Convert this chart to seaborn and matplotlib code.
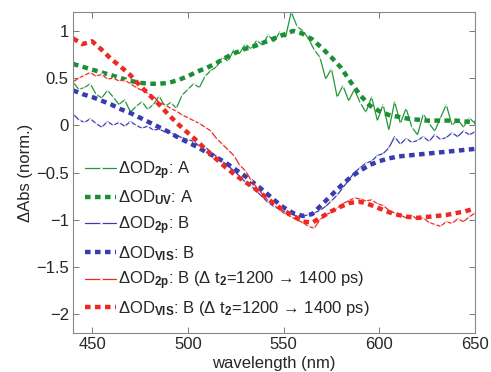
import numpy as np
import seaborn as sns
import matplotlib.pyplot as plt
from matplotlib.ticker import FuncFormatter

# wavelength grids (nm)
wl_2p = np.arange(440, 651, 3)
wl_ref = np.arange(440, 651, 5)

# dOD_2p : A  (green, thin)
od2p_A = [0.46, 0.38, 0.40, 0.44, 0.33, 0.29, 0.37, 0.30, 0.22, 0.27,
          0.14, 0.20, 0.25, 0.17, 0.22, 0.31, 0.20, 0.24, 0.18, 0.32,
          0.38, 0.44, 0.40, 0.52, 0.58, 0.62, 0.72, 0.68, 0.80, 0.76,
          0.86, 0.81, 0.90, 0.85, 0.96, 0.88, 0.99, 0.93, 1.20, 1.05,
          1.00, 0.92, 0.80, 0.72, 0.49, 0.60, 0.30, 0.42, 0.26, 0.38,
          0.24, 0.14, 0.30, 0.05, 0.22, -0.05, 0.25, 0.02, 0.18, -0.02,
          -0.10, 0.12, 0.02, -0.06, 0.08, 0.22, 0.00, 0.06, -0.02, 0.08,
          0.02]
# dOD_UV : A  (green, dotted)
oduv_A = [0.65, 0.62, 0.59, 0.56, 0.53, 0.50, 0.47, 0.45, 0.44, 0.44,
          0.45, 0.48, 0.52, 0.57, 0.61, 0.66, 0.72, 0.77, 0.81, 0.84,
          0.88, 0.92, 0.96, 1.00, 0.97, 0.91, 0.82, 0.72, 0.61, 0.46,
          0.32, 0.21, 0.15, 0.11, 0.09, 0.07, 0.06, 0.05, 0.05, 0.05,
          0.05, 0.04, 0.03]
# dOD_2p : B  (blue, thin)
od2p_B = [0.12, 0.06, 0.03, 0.07, 0.02, -0.02, 0.04, 0.00, 0.03, -0.01,
          0.04, 0.00, -0.03, -0.01, -0.05, -0.04, -0.07, -0.08, -0.11, -0.13,
          -0.15, -0.17, -0.22, -0.23, -0.28, -0.33, -0.38, -0.43, -0.48, -0.54,
          -0.60, -0.64, -0.70, -0.76, -0.82, -0.86, -0.89, -0.92, -0.94, -0.96,
          -0.96, -0.95, -0.93, -0.90, -0.86, -0.80, -0.74, -0.66, -0.58, -0.50,
          -0.45, -0.40, -0.38, -0.32, -0.30, -0.24, -0.12, -0.20, -0.14, -0.18,
          -0.16, -0.12, -0.17, -0.10, -0.15, -0.13, -0.08, -0.12, -0.06, -0.10,
          -0.07]
# dOD_VIS : B  (blue, dotted)
odvis_B = [0.37, 0.33, 0.30, 0.26, 0.22, 0.17, 0.13, 0.08, 0.03, -0.02,
           -0.07, -0.13, -0.18, -0.23, -0.29, -0.34, -0.40, -0.47, -0.54, -0.62,
           -0.70, -0.79, -0.87, -0.93, -0.96, -0.94, -0.84, -0.74, -0.64, -0.55,
           -0.48, -0.42, -0.38, -0.35, -0.33, -0.32, -0.31, -0.30, -0.29, -0.28,
           -0.27, -0.26, -0.25]
# dOD_2p : B, dt2 = 1200 -> 1400 ps  (red, thin)
od2p_Bt = [0.46, 0.50, 0.53, 0.56, 0.52, 0.54, 0.49, 0.50, 0.47, 0.48,
           0.44, 0.40, 0.37, 0.34, 0.31, 0.24, 0.22, 0.18, 0.15, 0.11,
           0.08, 0.05, 0.02, -0.02, -0.06, -0.14, -0.20, -0.26, -0.32, -0.42,
           -0.48, -0.58, -0.66, -0.73, -0.80, -0.84, -0.90, -0.94, -0.97, -1.00,
           -1.03, -1.07, -1.09, -1.00, -0.95, -0.92, -0.88, -0.83, -0.80, -0.77,
           -0.78, -0.80, -0.79, -0.83, -0.85, -0.90, -0.93, -0.95, -0.98, -0.95,
           -1.00, -0.98, -1.03, -1.05, -1.07, -1.02, -1.04, -0.99, -1.02, -0.97,
           -0.93]
# dOD_VIS : B, dt2 = 1200 -> 1400 ps  (red, dotted)
odvis_Bt = [0.92, 0.86, 0.89, 0.80, 0.70, 0.62, 0.53, 0.42, 0.32, 0.22,
            0.11, 0.01, -0.08, -0.17, -0.27, -0.36, -0.45, -0.53, -0.60, -0.67,
            -0.75, -0.83, -0.90, -0.96, -1.02, -1.03, -0.97, -0.91, -0.86, -0.82,
            -0.81, -0.84, -0.88, -0.92, -0.95, -0.97, -0.98, -0.97, -0.96, -0.95,
            -0.93, -0.91, -0.88]

labels = [
    'ΔOD$_\\mathbf{2p}$: A',
    'ΔOD$_\\mathbf{UV}$: A',
    'ΔOD$_\\mathbf{2p}$: B',
    'ΔOD$_\\mathbf{VIS}$: B',
    'ΔOD$_\\mathbf{2p}$: B (Δ t$_\\mathbf{2}$=1200 \u2192 1400 ps)',
    'ΔOD$_\\mathbf{VIS}$: B (Δ t$_\\mathbf{2}$=1200 \u2192 1400 ps)',
]
green, blue, red = '#23973c', '#3a3cae', '#ec2a22'

sns.set_style('ticks')
plt.rcParams['font.family'] = ['Liberation Sans', 'DejaVu Sans']
plt.rcParams['mathtext.fontset'] = 'custom'
plt.rcParams['mathtext.rm'] = 'Liberation Sans'
plt.rcParams['mathtext.bf'] = 'Liberation Sans:bold'
plt.rcParams['mathtext.it'] = 'Liberation Sans:italic'

fig = plt.figure(figsize=(4.91, 3.72), dpi=100)
ax = fig.add_axes([0.1487, 0.1048, 0.8187, 0.8629])

thin = dict(lw=0.9, marker='.', markersize=2.0)
dot = dict(lw=3.2, linestyle=(0, (1.25, 1.0)), dash_capstyle='butt')

sns.lineplot(x=wl_2p, y=od2p_A, ax=ax, color=green, label=labels[0], **thin)
sns.lineplot(x=wl_ref, y=oduv_A, ax=ax, color='#1b8f35', label=labels[1], **dot)
sns.lineplot(x=wl_2p, y=od2p_B, ax=ax, color=blue, label=labels[2], **thin)
sns.lineplot(x=wl_ref, y=odvis_B, ax=ax, color=blue, label=labels[3], **dot)
sns.lineplot(x=wl_2p, y=od2p_Bt, ax=ax, color=red, label=labels[4], **thin)
sns.lineplot(x=wl_ref, y=odvis_Bt, ax=ax, color=red, label=labels[5], **dot)

ax.set_xlim(440, 650)
ax.set_ylim(-2.2, 1.2)
ax.set_xticks([450, 500, 550, 600, 650])
ax.set_yticks([1, 0.5, 0, -0.5, -1, -1.5, -2])
ax.yaxis.set_major_formatter(FuncFormatter(lambda v, p: ('%g' % v).replace('-', '\u2212')))
ax.tick_params(direction='in', top=True, right=True, length=4, width=0.7,
               color='#777777', labelsize=12, pad=3)
for s in ax.spines.values():
    s.set_color('#888888')
    s.set_linewidth(0.8)

ax.set_xlabel('wavelength (nm)', fontsize=12, labelpad=3)
ax.set_ylabel('ΔAbs (norm.)', fontsize=12, labelpad=2)

ax.legend(loc='lower left', bbox_to_anchor=(0.0, 0.01), frameon=False,
          fontsize=12, handlelength=1.9, handletextpad=0.1, labelspacing=0.42,
          borderaxespad=0.3)

plt.savefig('out.png', dpi=100)
